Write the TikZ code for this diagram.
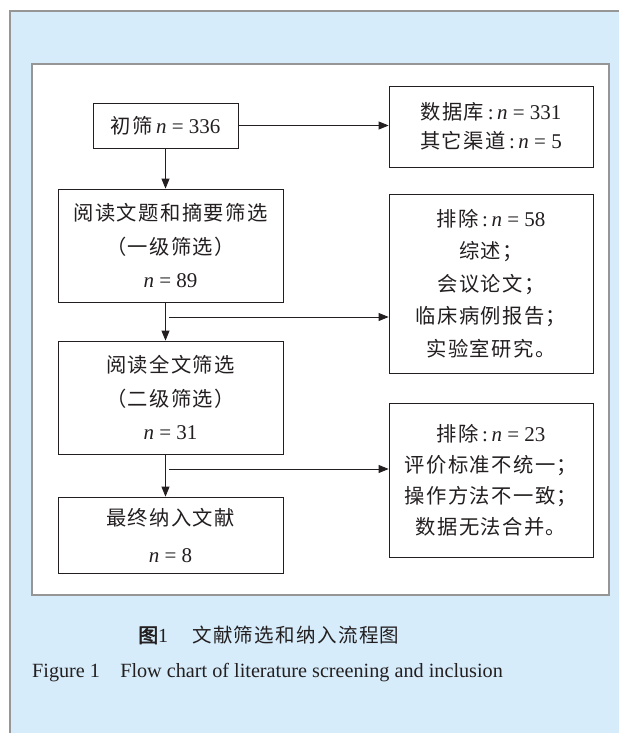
\documentclass[tikz,border=0pt]{standalone}
\usepackage{fontspec}
\setmainfont{Liberation Serif}
\newfontfamily\cjk[LetterSpace=7,AutoFakeBold=2.5]{Noto Sans CJK SC}
\usetikzlibrary{arrows.meta}
\definecolor{panelblue}{RGB}{214,236,250}
\definecolor{edgegrey}{RGB}{150,150,150}
\definecolor{ink}{RGB}{35,31,32}
\newcommand{\zh}[1]{{\fontsize{20.3}{20}\cjk #1}}
\begin{document}
\begin{tikzpicture}[x=1pt,y=-1pt,
  box/.style={draw=ink, line width=0.8pt, fill=white, align=center, inner sep=0pt, text=ink},
  arr/.style={draw=ink, line width=0.8pt, -{Triangle[length=10pt,width=8pt]}},
  captext/.style={anchor=west, text=ink, inner sep=0pt}]
\useasboundingbox (0,0) rectangle (619,733);
\fill[white] (0,0) rectangle (619,733);
\fill[panelblue] (10,11) rectangle (619,733);
\draw[edgegrey, line width=1.5pt] (10,733) -- (10,11) -- (619,11);
\draw[edgegrey, line width=1.5pt, fill=white] (32,64) rectangle (609,595);

\node[box, minimum width=145pt, minimum height=45pt, font=\fontsize{21}{29}\selectfont] (b1) at (165.5,125.5)
  {\zh{初筛}\,\textit{n} = 336};
\node[box, minimum width=204pt, minimum height=81pt, font=\fontsize{21}{29}\selectfont] (b2) at (491,126.5)
  {\zh{数据库}\,:\,\textit{n} = 331\\\zh{其它渠道}\,:\,\textit{n} = 5};
\node[box, minimum width=225pt, minimum height=113pt, font=\fontsize{21}{33.5}\selectfont] (b3) at (170.5,245.5)
  {\zh{阅读文题和摘要筛选}\\\zh{（一级筛选）}\\\textit{n} = 89};
\node[box, minimum width=204pt, minimum height=179pt, font=\fontsize{21}{32.5}\selectfont] (b4) at (491,283.5)
  {\zh{排除}\,:\,\textit{n} = 58\\\zh{综述；}\\\zh{会议论文；}\\\zh{临床病例报告；}\\\zh{实验室研究。}};
\node[box, minimum width=225pt, minimum height=113pt, font=\fontsize{21}{33.5}\selectfont] (b5) at (170.5,397.5)
  {\zh{阅读全文筛选}\\\zh{（二级筛选）}\\\textit{n} = 31};
\node[box, minimum width=225pt, minimum height=76pt, font=\fontsize{21}{37}\selectfont] (b6) at (170.5,535)
  {\zh{最终纳入文献}\\\textit{n} = 8};
\node[box, minimum width=204pt, minimum height=154pt, font=\fontsize{21}{31}\selectfont] (b7) at (491,480)
  {\zh{排除}\,:\,\textit{n} = 23\\\zh{评价标准不统一；}\\\zh{操作方法不一致；}\\\zh{数据无法合并。}};

\draw[arr] (b1.east) -- (b1.east -| b2.west);
\draw[arr] (b1.south) -- (b1.south |- b3.north);
\draw[arr] (b1.south |- b3.south) -- (b1.south |- b5.north);
\draw[arr] (b1.south |- b5.south) -- (b1.south |- b6.north);
\coordinate (j1) at (169,317);
\coordinate (j2) at (169,469);
\draw[arr] (j1) -- (j1 -| b4.west);
\draw[arr] (j2) -- (j2 -| b7.west);

\node[captext, font=\fontsize{20}{22}\selectfont] (c1) at (138,635)
  {{\fontsize{20}{22}\cjk\bfseries 图}1\hspace{1.2em}{\fontsize{19.5}{22}\cjk 文献筛选和纳入流程图}};
\node[captext, font=\fontsize{20.2}{22}\selectfont] (c2) at (32,673)
  {Figure 1\hspace{1em}Flow chart of literature screening and inclusion};
\end{tikzpicture}
\end{document}
